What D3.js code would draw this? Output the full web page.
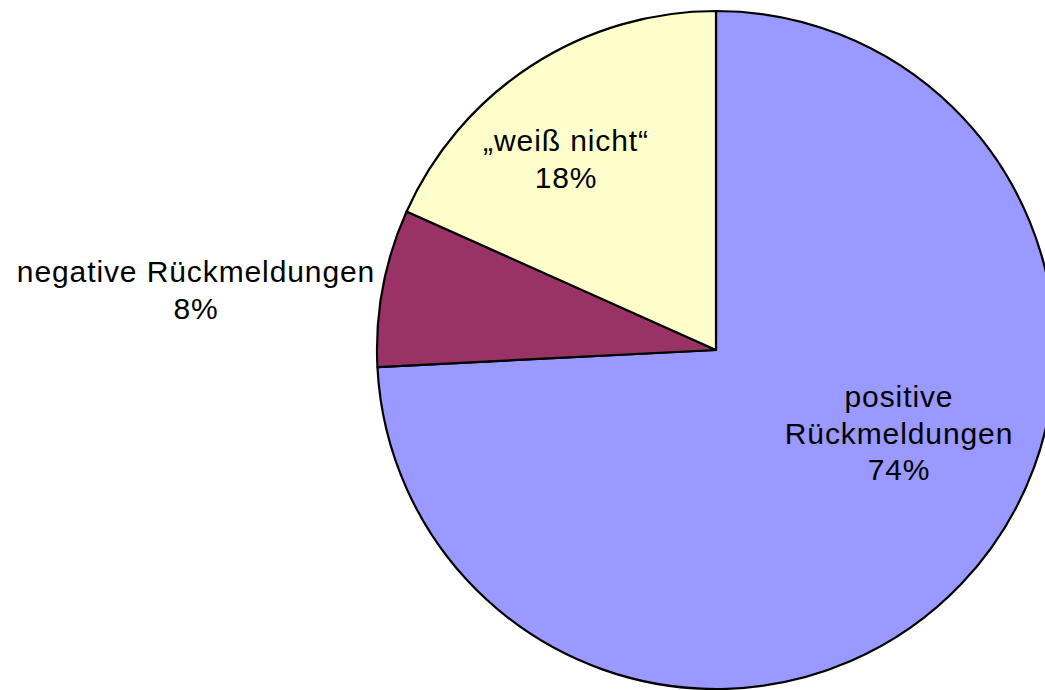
<!DOCTYPE html>
<html><head><meta charset="utf-8">
<script src="https://cdn.jsdelivr.net/npm/d3@7"></script>
<style>body{margin:0;background:#fff;overflow:hidden}svg{display:block}</style>
</head><body>
<svg id="chart" width="1045" height="690"></svg>
<script>
const categories = ["positive Rückmeldungen", "negative Rückmeldungen", "„weiß nicht“"];
const values = [74.2, 7.5, 18.3];
const percentLabels = ["74%", "8%", "18%"];
const colors = ["#9999FF", "#993366", "#FFFFCC"];
const nameLines = [["positive", "Rückmeldungen"], ["negative Rückmeldungen"], ["„weiß nicht“"]];

const svg = d3.select("#chart");
const cx = 716, cy = 350, r = 339;
const data = categories.map((c, i) => ({cat: c, value: values[i], color: colors[i], lines: nameLines[i].concat([percentLabels[i]])}));
const pie = d3.pie().value(d => d.value).sort(null);
const arc = d3.arc().innerRadius(0).outerRadius(r);
const arcs = pie(data);
const g = svg.append("g").attr("transform", `translate(${cx},${cy})`);
g.selectAll("path").data(arcs).enter().append("path")
  .attr("d", arc).attr("fill", d => d.data.color)
  .attr("stroke", "#000").attr("stroke-width", 2.2).attr("stroke-linejoin", "round");

// label positions (relative to center): x center, first baseline
const labelPos = [[183, 57], [-520, -68], [-150, -199]];
const lh = 36.5;
const font = "Liberation Sans, Arial, sans-serif";
arcs.forEach((a, i) => {
  const lines = a.data.lines;
  const t = g.append("text").attr("text-anchor", "middle")
    .attr("font-family", font).attr("font-size", 30).attr("letter-spacing", "0.9px").attr("fill", "#000");
  lines.forEach((l, j) => {
    t.append("tspan").attr("x", labelPos[i][0]).attr("y", labelPos[i][1] + j * lh).text(l);
  });
});
</script>
</body></html>
